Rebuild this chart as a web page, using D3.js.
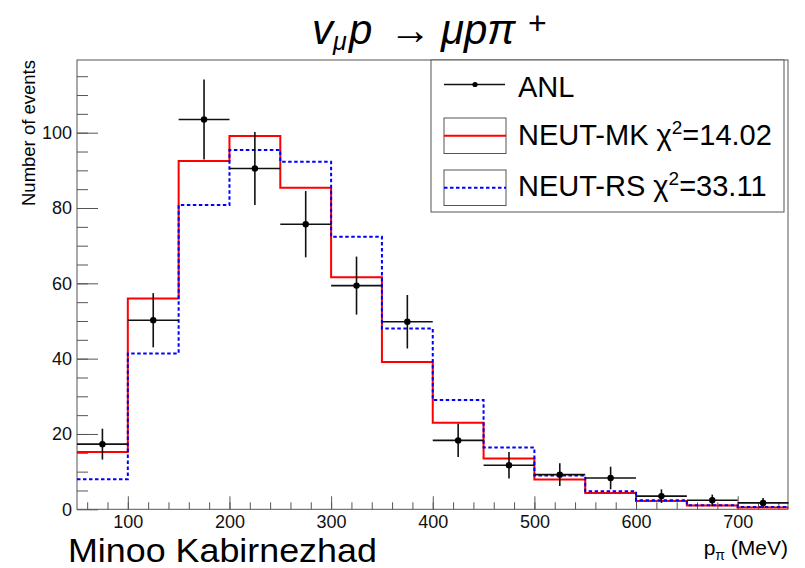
<!DOCTYPE html>
<html>
<head>
<meta charset="utf-8">
<script src="https://cdn.jsdelivr.net/npm/d3@7"></script>
<style>
  body { margin: 0; background: #fff; }
  svg text { font-family: "Liberation Sans", Arial, sans-serif; }
</style>
</head>
<body>
<svg id="chart"></svg>
<script>
// bins in p_pi (MeV)
var binEdges = [50, 100, 150, 200, 250, 300, 350, 400, 450, 500, 550, 600, 650, 700, 750];
var binCenters = [75, 125, 175, 225, 275, 325, 375, 425, 475, 525, 575, 625, 675, 725];

// ANL data and its errors
var anlValues = [17.3, 50.2, 103.5, 90.5, 75.7, 59.4, 49.8, 18.3, 11.7, 9.2, 8.3, 3.5, 2.4, 1.7];
var anlErrors = [4.1, 7.2, 10.6, 9.7, 8.8, 7.7, 7.1, 4.4, 3.5, 3.0, 3.0, 1.8, 1.5, 1.3];

// NEUT predictions
var mkValues = [15.2, 56.0, 92.5, 99.1, 85.4, 61.6, 39.1, 23.0, 13.5, 7.9, 4.3, 2.2, 1.0, 0.5];
var rsValues = [8.0, 41.4, 80.8, 95.4, 92.3, 72.4, 48.0, 29.0, 16.4, 9.0, 4.8, 2.4, 1.1, 0.6];

var xMajorTicks = [100, 200, 300, 400, 500, 600, 700];
var yMajorTicks = [0, 20, 40, 60, 80, 100];

var legendLabels = ["ANL", "NEUT-MK", "NEUT-RS"];
var legendChi2 = [null, "14.02", "33.11"];

var W = 805, H = 568;
var margin = {top: 60, right: 17, bottom: 58.7, left: 77};

var svg = d3.select("#chart")
  .attr("width", W)
  .attr("height", H);

var x = d3.scaleLinear().domain([50, 750]).range([margin.left, 788.5]);
var y = d3.scaleLinear().domain([0, 119.3]).range([H - margin.bottom, margin.top]);

var tickColor = "#555";

// x axis: minor then major ticks (pointing inward)
svg.append("g")
  .attr("transform", "translate(0," + y(0) + ")")
  .call(d3.axisBottom(x).tickValues(d3.range(60, 750, 20)).tickSize(-7).tickFormat(""))
  .call(function(g) { g.select(".domain").remove(); g.selectAll("line").attr("stroke", tickColor); });

svg.append("g")
  .attr("transform", "translate(0," + y(0) + ")")
  .call(d3.axisBottom(x).tickValues(xMajorTicks).tickSize(-13).tickPadding(5.5).tickFormat(d3.format("d")))
  .call(function(g) {
    g.select(".domain").remove();
    g.selectAll("line").attr("stroke", tickColor);
    g.selectAll("text").attr("font-size", 18).attr("fill", "#111")
      .style("font-family", "'Liberation Sans', Arial, sans-serif");
  });

// y axis
svg.append("g")
  .attr("transform", "translate(" + margin.left + ",0)")
  .call(d3.axisLeft(y).tickValues(d3.range(5, 119, 5)).tickSize(-11).tickFormat(""))
  .call(function(g) { g.select(".domain").remove(); g.selectAll("line").attr("stroke", tickColor); });

svg.append("g")
  .attr("transform", "translate(" + margin.left + ",0)")
  .call(d3.axisLeft(y).tickValues(yMajorTicks).tickSize(-21).tickPadding(5).tickFormat(d3.format("d")))
  .call(function(g) {
    g.select(".domain").remove();
    g.selectAll("line").attr("stroke", tickColor);
    g.selectAll("text").attr("font-size", 18).attr("fill", "#111")
      .style("font-family", "'Liberation Sans', Arial, sans-serif");
  });

// frame
svg.append("rect")
  .attr("x", margin.left)
  .attr("y", margin.top)
  .attr("width", 788 - margin.left)
  .attr("height", y(0) - margin.top)
  .attr("fill", "none")
  .attr("stroke", tickColor)
  .attr("stroke-width", 1);

// histograms as steps
var stepLine = d3.line()
  .x(function(d) { return x(d[0]); })
  .y(function(d) { return y(d[1]); })
  .curve(d3.curveStepAfter);

function stepPoints(values) {
  var pts = values.map(function(v, i) { return [binEdges[i], v]; });
  pts.push([binEdges[binEdges.length - 1], values[values.length - 1]]);
  return pts;
}

svg.append("path")
  .datum(stepPoints(mkValues))
  .attr("d", stepLine)
  .attr("fill", "none")
  .attr("stroke", "#ff0000")
  .attr("stroke-width", 2);

svg.append("path")
  .datum(stepPoints(rsValues))
  .attr("d", stepLine)
  .attr("fill", "none")
  .attr("stroke", "#0000ff")
  .attr("stroke-width", 2)
  .attr("stroke-dasharray", "3.5,2.5");

// ANL points with errors
var anl = binCenters.map(function(c, i) {
  return {c: c, lo: binEdges[i], hi: binEdges[i + 1], v: anlValues[i], e: anlErrors[i]};
});

var pts = svg.append("g").selectAll("g")
  .data(anl)
  .enter()
  .append("g");

pts.append("line")
  .attr("x1", function(d) { return x(d.lo); })
  .attr("x2", function(d) { return x(d.hi); })
  .attr("y1", function(d) { return y(d.v); })
  .attr("y2", function(d) { return y(d.v); })
  .attr("stroke", "#111")
  .attr("stroke-width", 1.6);

pts.append("line")
  .attr("x1", function(d) { return x(d.c); })
  .attr("x2", function(d) { return x(d.c); })
  .attr("y1", function(d) { return y(d.v - d.e); })
  .attr("y2", function(d) { return y(d.v + d.e); })
  .attr("stroke", "#111")
  .attr("stroke-width", 1.6);

pts.append("circle")
  .attr("cx", function(d) { return x(d.c); })
  .attr("cy", function(d) { return y(d.v); })
  .attr("r", 3.2)
  .attr("fill", "#000");

// legend
var legend = svg.append("g");
legend.append("rect")
  .attr("x", 431).attr("y", margin.top)
  .attr("width", 784 - 431).attr("height", 212 - margin.top)
  .attr("fill", "#fff")
  .attr("stroke", tickColor);

// ANL entry
legend.append("line")
  .attr("x1", 444).attr("x2", 505).attr("y1", 84.5).attr("y2", 84.5)
  .attr("stroke", "#111").attr("stroke-width", 1.6);
legend.append("circle")
  .attr("cx", 475).attr("cy", 84.5).attr("r", 2.6).attr("fill", "#000");

// histogram entries
var boxes = [{y: 118, color: "#ff0000", dash: null}, {y: 170, color: "#0000ff", dash: "3.5,2.5"}];
boxes.forEach(function(b) {
  legend.append("rect")
    .attr("x", 444).attr("y", b.y).attr("width", 62).attr("height", 35.5)
    .attr("fill", "none").attr("stroke", tickColor);
  legend.append("line")
    .attr("x1", 444).attr("x2", 506).attr("y1", b.y + 17.8).attr("y2", b.y + 17.8)
    .attr("stroke", b.color).attr("stroke-width", 2)
    .attr("stroke-dasharray", b.dash);
});

var baselines = [96.5, 144.5, 196];
legendLabels.forEach(function(lab, i) {
  var t = legend.append("text")
    .attr("x", 518).attr("y", baselines[i])
    .attr("font-size", 29)
    .attr("fill", "#000");
  t.append("tspan").text(lab);
  if (legendChi2[i]) {
    t.append("tspan").text(" \u03c7");
    t.append("tspan").attr("font-size", 19).attr("dy", -11).text("2");
    t.append("tspan").attr("dy", 11).text("=" + legendChi2[i]);
  }
});

// title
var title = svg.append("text")
  .attr("y", 43.5)
  .attr("font-size", 42)
  .attr("font-style", "italic")
  .attr("fill", "#000");
title.append("tspan").attr("x", 312).text("v");
title.append("tspan").attr("x", 333).attr("font-size", 25).attr("dy", 6).text("\u03bc");
title.append("tspan").attr("x", 349).attr("dy", -6).text("p");
title.append("tspan").attr("x", 389).attr("font-style", "normal").text("\u2192");
title.append("tspan").attr("x", 441).text("\u03bcp\u03c0");
title.append("tspan").attr("x", 528).attr("font-size", 32).attr("font-style", "normal").attr("dy", -10).text("+");

// axis titles
svg.append("text")
  .attr("transform", "translate(35," + margin.top + ") rotate(-90)")
  .attr("text-anchor", "end")
  .attr("font-size", 18.5)
  .attr("fill", "#000")
  .text("Number of events");

var xt = svg.append("text")
  .attr("x", 788).attr("y", 555)
  .attr("text-anchor", "end")
  .attr("font-size", 21)
  .attr("fill", "#000");
xt.append("tspan").text("p");
xt.append("tspan").attr("font-size", 14).attr("dy", 5).text("\u03c0");
xt.append("tspan").attr("dy", -5).text(" (MeV)");

// author
svg.append("text")
  .attr("transform", "translate(68,561.5) scale(1.07,1)")
  .attr("font-size", 33.5)
  .attr("fill", "#000")
  .text("Minoo Kabirnezhad");
</script>
</body>
</html>
